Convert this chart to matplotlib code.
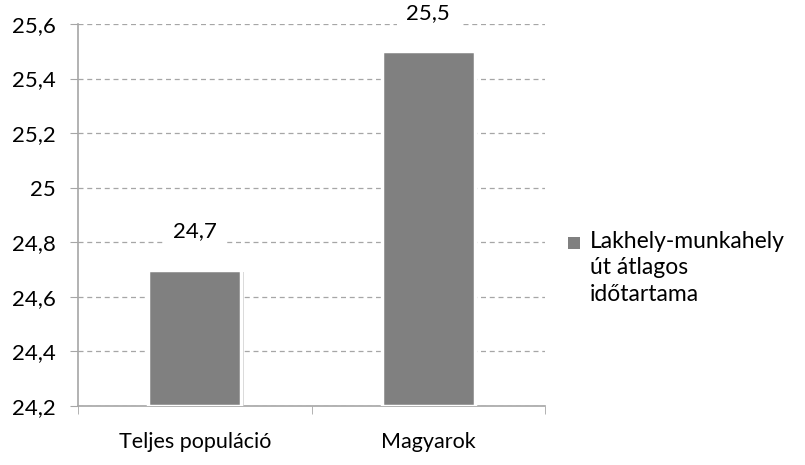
import matplotlib.pyplot as plt
from matplotlib.ticker import FuncFormatter, FixedLocator
from matplotlib.patches import Rectangle
import matplotlib.patheffects as pe

categories = ["Teljes populáció", "Magyarok"]
values = [24.7, 25.5]
series_name = "Lakhely-munkahely\nút átlagos\nidőtartama"
y_ticks = [24.2, 24.4, 24.6, 24.8, 25.0, 25.2, 25.4, 25.6]
bar_color = "#808080"

plt.rcParams["font.family"] = ["Lato", "DejaVu Sans"]

fig = plt.figure(figsize=(8.05, 4.65), dpi=100)
ax = fig.add_axes([78 / 805, 1 - 406 / 465, 467 / 805, 382 / 465])

bars = ax.bar(range(len(categories)), [v - 24.2 for v in values], bottom=24.2,
              width=0.4, color=bar_color, edgecolor="white", linewidth=2.5,
              zorder=3)
for b in bars:
    b.set_path_effects([pe.SimplePatchShadow(offset=(1.5, -1.5), shadow_rgbFace="#bdbdbd", alpha=0.7),
                        pe.Normal()])

ax.set_ylim(24.2, 25.6)
ax.set_xlim(-0.5, len(categories) - 0.5)
ax.yaxis.set_major_locator(FixedLocator(y_ticks))
ax.yaxis.set_major_formatter(FuncFormatter(lambda v, _: f"{v:g}".replace(".", ",")))
ax.grid(True, axis="y", linestyle=(0, (4, 3)), color="#a6a6a6", linewidth=0.9, zorder=0)

ax.set_xticks(range(len(categories)))
ax.set_xticklabels(categories)
ax.xaxis.set_minor_locator(FixedLocator([-0.5, 0.5, 1.5]))
ax.tick_params(axis="x", which="major", length=0, pad=19, labelsize=15.5)
ax.tick_params(axis="x", which="minor", length=6, color="#a6a6a6", direction="out")
ax.tick_params(axis="y", length=6, color="#a6a6a6", labelsize=16, pad=10)

for s in ["top", "right"]:
    ax.spines[s].set_visible(False)
for s in ["left", "bottom"]:
    ax.spines[s].set_color("#a6a6a6")
    ax.spines[s].set_linewidth(1.2)

for i, v in enumerate(values):
    ax.text(i, v + 0.14, f"{v:g}".replace(".", ","), ha="center", va="center",
            fontsize=16, zorder=4,
            bbox=dict(facecolor="white", edgecolor="none", pad=7))

# legend drawn by hand so the marker sits on the first line
fig.patches.append(Rectangle((568 / 805, 1 - 249 / 465), 12 / 805, 12 / 465,
                             transform=fig.transFigure, facecolor=bar_color,
                             edgecolor="none"))
fig.text(590 / 805, 1 - 231 / 465, series_name, ha="left", va="top",
         fontsize=16.5, linespacing=1.32, transform=fig.transFigure)

fig.savefig("out.png", dpi=100)
